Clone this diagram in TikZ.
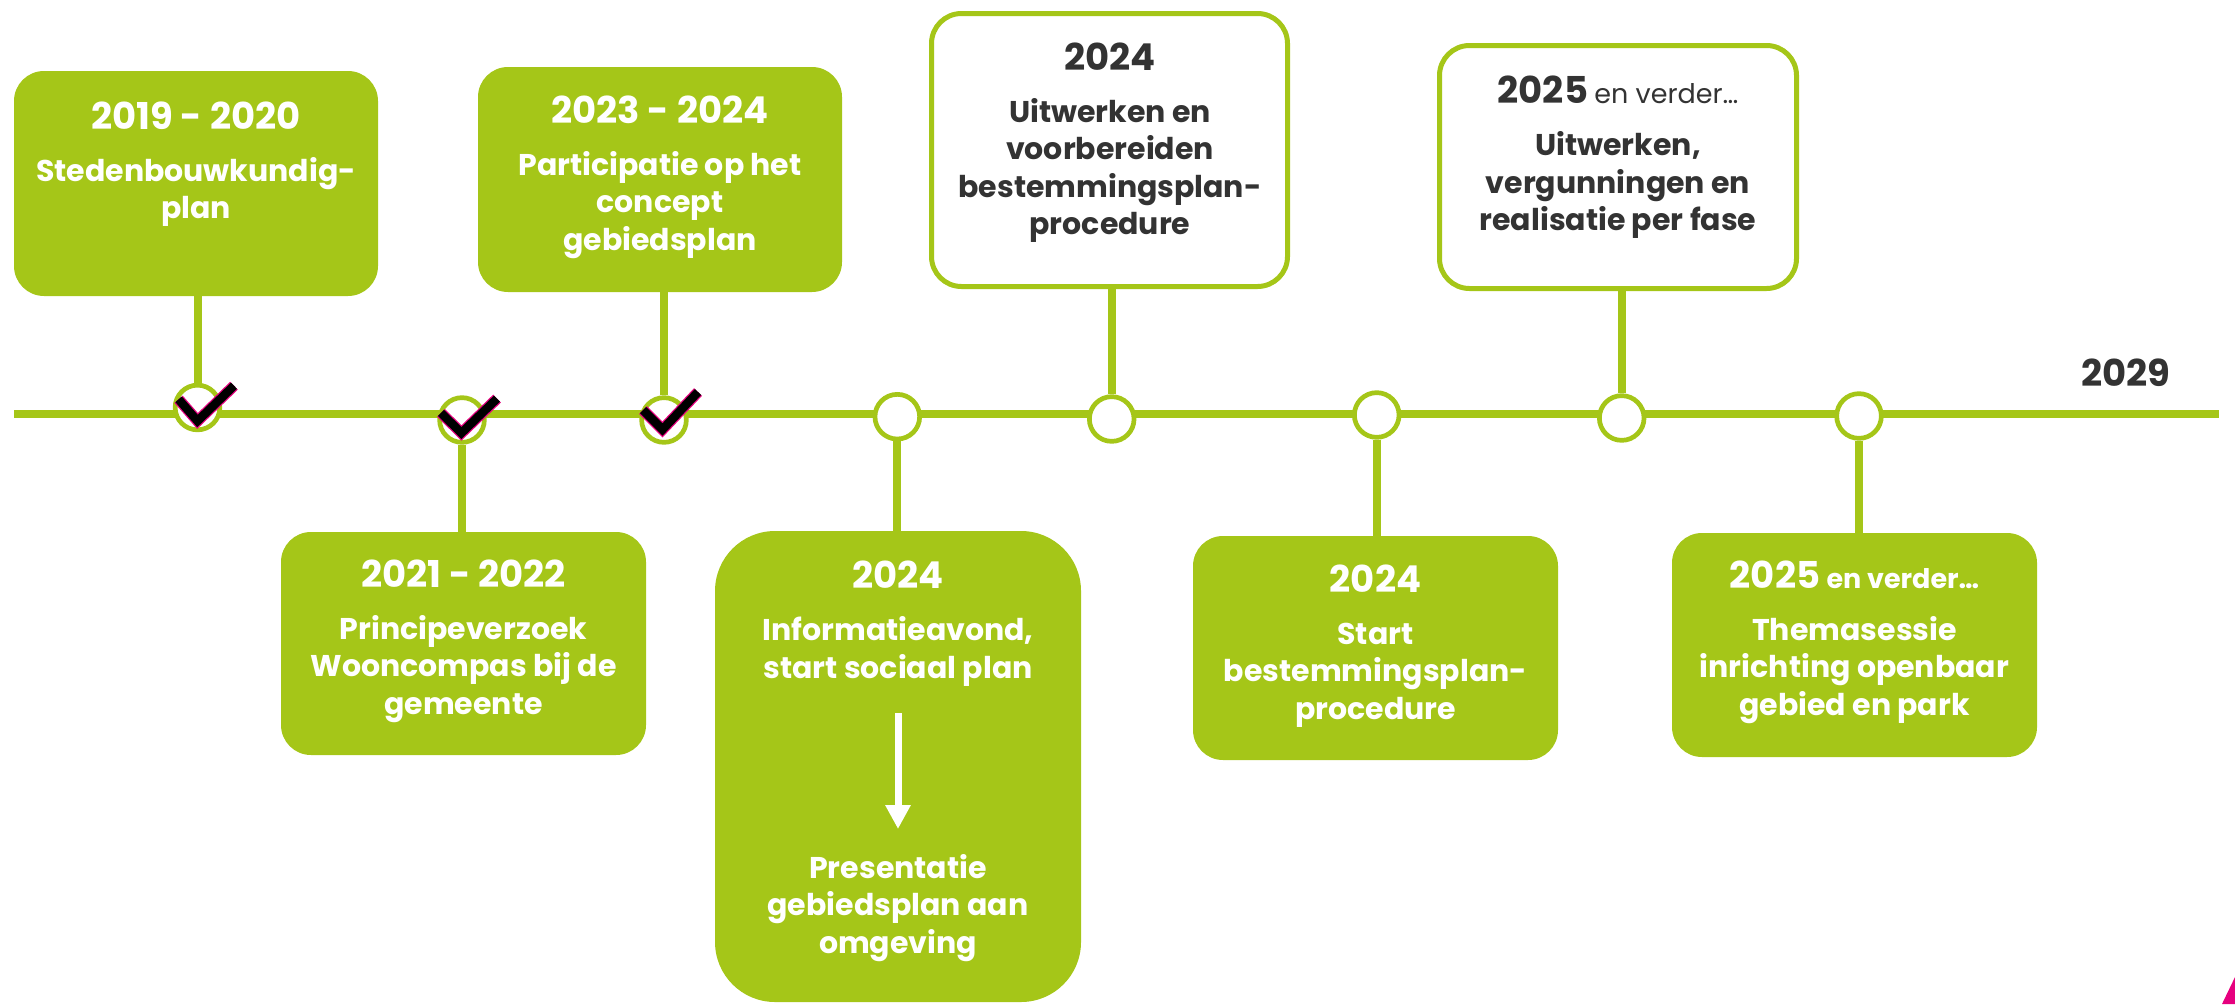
\documentclass[tikz,border=0pt]{standalone}
\usepackage{fontspec}
\setmainfont{Poppins}
\usetikzlibrary{arrows.meta}
\definecolor{lime}{HTML}{A5C618}
\definecolor{dk}{HTML}{333333}
\definecolor{pinkm}{HTML}{E6007E}
\newcommand{\yrf}{\fontsize{37}{44}\selectfont\bfseries}
\newcommand{\smf}{\fontsize{27}{36}\selectfont}
\tikzset{
  gbox/.style={draw=none, fill=lime, rounded corners=30pt, inner sep=0pt},
  wbox/.style={draw=lime, line width=5pt, fill=white, rounded corners=30pt, inner sep=0pt},
  txt/.style={align=center, inner sep=0pt, font=\fontsize{30}{37.5}\selectfont\bfseries},
  wtxt/.style={txt, text=white},
  dtxt/.style={txt, text=dk},
  stem/.style={draw=lime, line width=8pt},
  dot/.style={circle, draw=lime, line width=4.7pt, fill=white, minimum size=44.7pt, inner sep=0pt},
  tick/.style={line width=11pt, draw=pinkm, line join=miter},
  tickin/.style={line width=8.5pt, draw=black, line join=miter},
}
\begin{document}
\begin{tikzpicture}[x=1pt,y=-1pt]
\useasboundingbox (0,0) rectangle (2235,1004);
% timeline
\coordinate (tlA) at (14,414);
\coordinate (tlB) at (2219,414);
\draw[lime, line width=8pt] (tlA) -- (tlB);
% circles
\node[dot] (c1) at (197.5,407.5) {};
\node[dot] (c2) at (462,420) {};
\node[dot] (c3) at (664,420) {};
\node[dot] (c4) at (897.3,416.7) {};
\node[dot] (c5) at (1111.7,419) {};
\node[dot] (c6) at (1376.7,415) {};
\node[dot] (c7) at (1621.7,418) {};
\node[dot] (c8) at (1859,416) {};
% boxes
\node[gbox, minimum width=364pt, minimum height=225pt] (b1) at (196,183.5) {};
\node[gbox, minimum width=364pt, minimum height=225pt] (b2) at (660,179.5) {};
\node[wbox, minimum width=356pt, minimum height=273pt] (b3) at (1109.5,150) {};
\node[wbox, minimum width=357pt, minimum height=243pt] (b4) at (1618,167) {};
\node[gbox, minimum width=365pt, minimum height=223pt] (b5) at (463.5,643.5) {};
\node[gbox, minimum width=366pt, minimum height=471pt, rounded corners=60pt] (b6) at (898,766.5) {};
\node[gbox, minimum width=365pt, minimum height=224pt] (b7) at (1375.5,648) {};
\node[gbox, minimum width=365pt, minimum height=224pt] (b8) at (1854.5,645) {};
% stems
\draw[stem] (c1.north) -- (c1.north |- b1.south);
\draw[stem] (c3.north) -- (c3.north |- b2.south);
\draw[stem] (c5.north) -- (c5.north |- b3.south);
\draw[stem] (c7.north) -- (c7.north |- b4.south);
\draw[stem] (c2.south) -- (c2.south |- b5.north);
\draw[stem] (c4.south) -- (c4.south |- b6.north);
\draw[stem] (c6.south) -- (c6.south |- b7.north);
\draw[stem] (c8.south) -- (c8.south |- b8.north);
% texts
\node[wtxt] (t1) at (196,164) {{\yrf 2019 - 2020}\\[14.5pt]Stedenbouwkundig-\\plan};
\node[wtxt] (t2) at (660,177) {{\yrf 2023 - 2024}\\[14.5pt]Participatie op het\\concept\\gebiedsplan};
\node[dtxt] (t3) at (1110,142.5) {{\yrf 2024}\\[14.5pt]Uitwerken en\\voorbereiden\\bestemmingsplan-\\procedure};
\node[dtxt] (t4) at (1618,157.5) {{\yrf 2025} {\smf\mdseries en verder…}\\[14.5pt]Uitwerken,\\vergunningen en\\realisatie per fase};
\node[wtxt] (t5) at (463.5,641) {{\yrf 2021 - 2022}\\[14.5pt]Principeverzoek\\Wooncompas bij de\\gemeente};
\node[wtxt] (t6a) at (898,623.5) {{\yrf 2024}\\[14.5pt]Informatieavond,\\start sociaal plan};
\node[wtxt] (t6b) at (898,908) {Presentatie\\gebiedsplan aan\\omgeving};
\node[wtxt] (t7) at (1375.5,646) {{\yrf 2024}\\[14.5pt]Start\\bestemmingsplan-\\procedure};
\node[wtxt] (t8) at (1854.5,642) {{\yrf 2025} {\smf en verder…}\\[14.5pt]Themasessie\\inrichting openbaar\\gebied en park};
\node[dtxt, font=\yrf] (t29) at (2126,373) {2029};
% arrow in box 6
\coordinate (a6s) at (898,713);
\coordinate (a6e) at (898,829);
\draw[white, line width=7pt, -{Triangle[width=24pt,length=24pt]}] (a6s) -- (a6e);
% ticks
\draw[tick] (178.6,399.3) -- (197.5,421) -- (234,385.7);
\draw[tickin] (178.6,399.3) -- (197.5,421) -- (234,385.7);
\draw[tick] (441,412.9) -- (461.4,433) -- (497,398.6);
\draw[tickin] (441,412.9) -- (461.4,433) -- (497,398.6);
\draw[tick] (643,410) -- (662.5,429.5) -- (698,392);
\draw[tickin] (643,410) -- (662.5,429.5) -- (698,392);
% pink corner
\fill[pinkm] (2222,1004) -- (2235,977) -- (2235,1004) -- cycle;
\end{tikzpicture}
\end{document}
